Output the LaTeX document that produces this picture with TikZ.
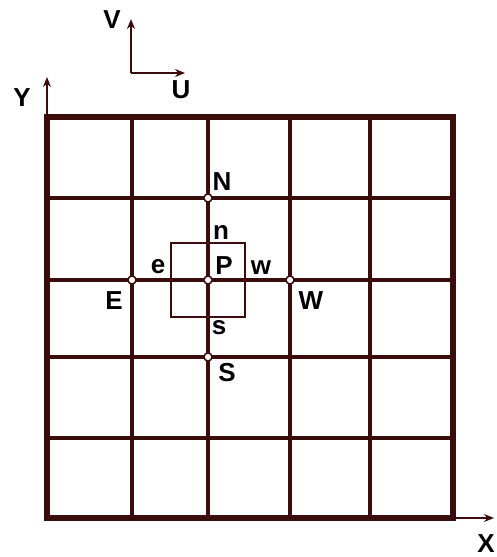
\documentclass[tikz,border=0pt]{standalone}
\usepackage{fontspec}
\setmainfont{Liberation Sans}
\usetikzlibrary{arrows.meta,positioning}
\definecolor{gridline}{RGB}{58,12,12}
\tikzset{
  lbl/.style={font=\fontsize{26}{26}\selectfont\bfseries, inner sep=0pt},
  gridpt/.style={circle, draw=gridline, fill=white, line width=1.5pt, inner sep=0pt, minimum size=8pt},
  axis/.style={draw=gridline, line width=2pt, -{Stealth[length=10pt,width=8pt]}},
  cellline/.style={draw=gridline, line width=3.3pt},
}

\begin{document}
\begin{tikzpicture}[x=1pt,y=-1pt]
  \useasboundingbox (0,0) rectangle (496,557);
  % grid
  \foreach \x in {132,208,290,370}
    \draw[cellline] (\x,117) -- (\x,518);
  \foreach \y in {198,280,357,438}
    \draw[cellline] (47,\y) -- (453,\y);
  \draw[draw=gridline, line width=5.5pt] (47,117) rectangle (453,518);
  % control volume
  \draw[draw=gridline, line width=2.7pt] (171,243) rectangle (245,317);
  % axes
  \coordinate (O) at (47,518);
  \coordinate (Ytip) at (47,77);
  \coordinate (Xtip) at (494,518);
  \draw[axis] (O) -- (Ytip);
  \draw[axis] (O) -- (Xtip);
  \node[lbl] (Ylbl) at (22,98) {Y};
  \node[lbl] (Xlbl) at (486,544) {X};
  % velocity directions
  \coordinate (UVo) at (131,73);
  \coordinate (Vtip) at (131,19);
  \coordinate (Utip) at (185,73);
  \draw[axis, line width=1.5pt] (UVo) -- (Vtip);
  \draw[axis, line width=1.5pt] (UVo) -- (Utip);
  \node[lbl] (Vlbl) at (112,20) {V};
  \node[lbl] (Ulbl) at (181,90) {U};
  % nodal points
  \node[gridpt] (N) at (208,198) {};
  \node[gridpt] (E) at (132,280) {};
  \node[gridpt] (P) at (208,280) {};
  \node[gridpt] (W) at (290,280) {};
  \node[gridpt] (S) at (208,357) {};
  \node[lbl] (Nlbl) at (222,182) {N};
  \node[lbl] (nlbl) at (221,232) {n};
  \node[lbl] (elbl) at (158,267) {e};
  \node[lbl] (Plbl) at (224,266) {P};
  \node[lbl] (wlbl) at (261,268) {w};
  \node[lbl] (Elbl) at (114,301) {E};
  \node[lbl] (Wlbl) at (311,301) {W};
  \node[lbl] (slbl) at (219,328) {s};
  \node[lbl] (Slbl) at (227,373) {S};
\end{tikzpicture}
\end{document}
